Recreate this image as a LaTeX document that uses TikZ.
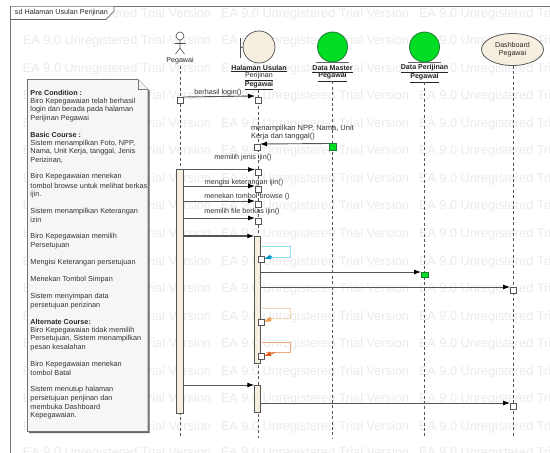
\documentclass[tikz,border=0pt]{standalone}
\usepackage{fontspec}
\setmainfont{Liberation Sans}
\usetikzlibrary{arrows.meta,shapes.geometric}
\definecolor{wm}{HTML}{EBEBEB}
\definecolor{ln}{HTML}{555555}
\definecolor{creamf}{HTML}{F6EFE0}
\definecolor{notef}{HTML}{F7F5F8}
\definecolor{greenf}{HTML}{00DD22}
\definecolor{greend}{HTML}{1C7A30}
\definecolor{skyc}{HTML}{8ADFF2}
\definecolor{skyd}{HTML}{0090C8}
\definecolor{oralt}{HTML}{F8D2AE}
\definecolor{orad}{HTML}{E89A45}
\definecolor{redo}{HTML}{F0A880}
\definecolor{redd}{HTML}{DD5511}
\tikzset{
  x=1pt,y=-1pt,
  every node/.style={inner sep=0pt,outer sep=0pt},
  wmark/.style={anchor=west,text=wm,font=\fontsize{12.7}{14}\selectfont},
  life/.style={draw=ln,dash pattern=on 3pt off 2.4pt,line width=.8pt},
  msg/.style={draw=ln,line width=.9pt,-{Latex[length=7pt,width=5pt,black]}},
  thickmsg/.style={draw=ln,line width=1.2pt,-{Latex[length=7pt,width=5pt,black]}},
  exec/.style={draw=ln,fill=white,line width=.7pt,minimum size=6pt},
  gexec/.style={draw=greend,fill=greenf,line width=.6pt,minimum size=7pt},
  act/.style={draw=ln,fill=creamf,line width=.7pt,minimum width=6.5pt,anchor=north},
  lbl/.style={font=\fontsize{7.2}{8}\selectfont,text=black!80},
  ntxt/.style={anchor=west,font=\fontsize{7.3}{8}\selectfont,text=black!80},
  ntxb/.style={anchor=west,font=\fontsize{7.2}{8}\bfseries\selectfont,text=black!85},
  headtxt/.style={font=\fontsize{7.1}{8}\selectfont,text=black!85,align=center},
  ent/.style={circle,draw=greend,fill=greenf,line width=.8pt,minimum size=30pt},
}
\begin{document}
\begin{tikzpicture}
\useasboundingbox (0,0) rectangle (550,453);
\fill[white] (0,0) rectangle (550,453);
% watermark
\foreach \yy in {14,41,69,96,124,151,179,206,234,262,289,317,344,372,399,427,453}
  \foreach \xx in {23,221,419}
    \node[wmark] at (\xx,\yy) {EA 9.0 Unregistered Trial Version};
% frame
\draw[draw=black!55,line width=.8pt] (10.5,453) -- (10.5,6) -- (550,6);
\fill[white] (11,6.5) -- (114,6.5) -- (114,11) -- (106,19.5) -- (11,19.5) -- cycle;
\draw[draw=black!60,line width=.7pt] (11,19.5) -- (106,19.5) -- (114,11) -- (114,6);
\node[anchor=west,font=\fontsize{7.2}{8}\selectfont,text=black!85] (title) at (15,13) {sd Halaman Usulan Perijinan};
% lifeline heads
\coordinate (pg) at (180,66);
\draw[draw=black!70,line width=.6pt,fill=white] (180,36) circle (4pt);
\draw[draw=black!70,line width=.6pt] (180,40) -- (180,48) (174.5,43.5) -- (185.5,43.5) (180,48) -- (175.5,54) (180,48) -- (184.5,54);
\node[headtxt] (pgl) at (180,60.5) {Pegawai};
\draw[draw=black!70,line width=.7pt] (240.5,38) -- (240.5,58);
\node[circle,draw=black!70,fill=creamf,line width=.7pt,minimum size=32pt] (hb) at (259,47) {};
\draw[draw=black!70,line width=.7pt] (240.5,48) -- (hb.west);
\node[headtxt] (hl) at (259,77.5) {\underline{\textbf{Halaman Usulan}}\\[-.6pt]\underline{Perijinan}\\[-.6pt]\underline{\textbf{Pegawai}}};
\node[ent] (dm) at (332.5,47) {};
\draw[draw=black!60,line width=.7pt] (316,62.5) -- (349,62.5);
\node[headtxt] (dml) at (332.5,73.5) {\underline{\textbf{Data Master}}\\[-.6pt]\underline{\textbf{Pegawai}}};
\node[ent] (dp) at (424.5,47) {};
\draw[draw=black!60,line width=.7pt] (408,62.5) -- (441,62.5);
\node[headtxt] (dpl) at (424.5,73.5) {\underline{\textbf{Data Perijinan}}\\[-.6pt]\underline{\textbf{Pegawai}}};
\node[ellipse,draw=black!65,fill=creamf,line width=.8pt,minimum width=62pt,minimum height=32pt,headtxt] (db) at (512.5,49.5) {Dashboard\\Pegawai};
% lifelines
\coordinate (pgend) at (180,438);
\coordinate (hbend) at (258,438);
\coordinate (dmend) at (332.7,438);
\coordinate (dpend) at (424.5,438);
\coordinate (dbend) at (513,438);
\draw[life] (pg) -- (pgend);
\draw[life] (hl.south -| hbend) -- (hbend);
\draw[life] (dml.south -| dmend) -- (dmend);
\draw[life] (dpl.south -| dpend) -- (dpend);
\draw[life] (db.south -| dbend) -- (dbend);
% activations
\node[act,minimum height=244pt] (a1) at (180,169) {};
\node[act,minimum height=127pt] (a2) at (257.5,236) {};
\node[act,minimum height=27pt] (a3) at (257.5,385) {};
\draw[draw=ln,line width=1.5pt] (a2.north west) -- (a2.south west) (a3.north west) -- (a3.south west);
% exec squares
\node[exec] (s0) at (180,100) {};
\node[exec] (s1) at (258,100) {};
\node[exec] (s2) at (257,147) {};
\node[gexec] (g1) at (332.5,147) {};
\node[exec] (s3) at (258,172) {};
\node[exec] (s4) at (258,189) {};
\node[exec] (s5) at (258,204) {};
\node[exec] (s6) at (258,221) {};
\node[exec] (b1) at (261,259) {};
\node[exec] (o1) at (261,322) {};
\node[exec] (r1) at (261,356) {};
\node[gexec,minimum width=7pt,minimum height=5pt] (g2) at (424.5,275) {};
\node[exec] (d1) at (513,290) {};
\node[exec] (d2) at (513,406) {};
% messages
\draw[msg] (s0.north east) -- ([yshift=1pt]s1.north west);
\draw[msg] (g1.north west) -- (s2.north east);
\foreach \tgt/\yy in {s3/169.5,s4/186,s5/201,s6/218}{
  \coordinate (st) at (a1.east |- 0,\yy);
  \draw[msg] (st) -- (\tgt.north west |- st);
}
\coordinate (st5) at (a1.east |- 0,236);
\draw[thickmsg] (st5) -- (a2.north west);
\coordinate (st6) at (a1.east |- 0,385);
\draw[msg] (st6) -- (a3.north west);
\coordinate (st7) at (a2.east |- 0,272);
\draw[msg] (st7) -- (g2.north west |- st7);
\coordinate (st8) at (a2.east |- 0,287);
\draw[msg] (st8) -- (d1.north west |- st8);
\coordinate (st9) at (a3.east |- 0,403);
\draw[msg] (st9) -- (d2.north west |- st9);
% self messages
\draw[draw=skyc,line width=.8pt] (262,246) -- (290,246) -- (290,257) -- (266,257);
\draw[draw=skyd,line width=.8pt,-{Latex[length=7pt,width=5pt,skyd]}] (272,256.5) -- (b1.east);
\draw[draw=oralt,line width=.8pt] (262,308) -- (290,308) -- (290,318.5) -- (266,318.5);
\draw[draw=orad,line width=.8pt,-{Latex[length=7pt,width=5pt,orad]}] (272,318.5) -- (o1.east);
\draw[draw=redo,line width=.8pt] (262,342) -- (290,342) -- (290,352.5) -- (266,352.5);
\draw[draw=redd,line width=.8pt,-{Latex[length=7pt,width=5pt,redd]}] (275,352.5) -- (r1.east);
% message labels
\node[lbl] (m1) at (218,93) {berhasil login()};
\node[lbl,font=\fontsize{7.5}{8}\selectfont,anchor=west,align=left] (m2) at (251,132.5) {menampilkan NPP, Nama, Unit\\[.4pt]Kerja dan tanggal()};
\node[lbl] (m3) at (243,158) {memilih jenis ijin()};
\node[lbl] (m4) at (244,182.5) {mengisi keterangan ijin()};
\node[lbl] (m5) at (247,196.5) {menekan tombol browse ()};
\node[lbl] (m6) at (242,212) {memilih file berkas ijin()};
% note
\fill[black!60] (29,81) -- (149.5,90) -- (149.5,433) -- (29,433) -- cycle;
\draw[draw=black!55,fill=notef,line width=.7pt] (27.5,79.5) -- (138,79.5) -- (148,89.5) -- (148,431.5) -- (27.5,431.5) -- cycle;
\draw[draw=black!55,line width=.6pt,fill=notef] (138,79.5) -- (138,89.5) -- (148,89.5);
\node[ntxb] (n1) at (30.5,93) {Pre Condition :};
\node[ntxt] (n2) at (30.5,101.5) {Biro Kepegawaian telah berhasil};
\node[ntxt] (n3) at (30.5,110) {login dan berada pada halaman};
\node[ntxt] (n4) at (30.5,118.5) {Perijinan Pegawai};
\node[ntxb] (n5) at (30.5,135) {Basic Course :};
\node[ntxt] (n6) at (30.5,143.5) {Sistem menampilkan Foto, NPP,};
\node[ntxt] (n7) at (30.5,152) {Nama, Unit Kerja, tanggal, Jenis};
\node[ntxt] (n8) at (30.5,160.5) {Perizinan,};
\node[ntxt] (n9) at (30.5,177) {Biro Kepegawaian menekan};
\node[ntxt] (n10) at (30.5,186) {tombol browse untuk melihat berkas};
\node[ntxt] (n11) at (30.5,195) {ijin.};
\node[ntxt] (n12) at (30.5,211.5) {Sistem menampilkan Keterangan};
\node[ntxt] (n13) at (30.5,220) {izin};
\node[ntxt] (n14) at (30.5,237) {Biro Kepegawaian memilih};
\node[ntxt] (n15) at (30.5,245.5) {Persetujuan};
\node[ntxt] (n16) at (30.5,263) {Mengisi Keterangan persetujuan};
\node[ntxt] (n17) at (30.5,279.5) {Menekan Tombol Simpan};
\node[ntxt] (n18) at (30.5,297) {Sistem menyimpan data};
\node[ntxt] (n19) at (30.5,305.5) {persetujuan perizinan};
\node[ntxb] (n20) at (30.5,322) {Alternate Course:};
\node[ntxt] (n21) at (30.5,330.5) {Biro Kepegawaian tidak memilih};
\node[ntxt] (n22) at (30.5,339) {Persetujuan, Sistem menampilkan};
\node[ntxt] (n23) at (30.5,347.5) {pesan kesalahan};
\node[ntxt] (n24) at (30.5,364.5) {Biro Kepegawaian menekan};
\node[ntxt] (n25) at (30.5,373) {tombol Batal};
\node[ntxt] (n26) at (30.5,390) {Sistem menutup halaman};
\node[ntxt] (n27) at (30.5,398.5) {persetujuan perijinan dan};
\node[ntxt] (n28) at (30.5,407) {membuka Dashboard};
\node[ntxt] (n29) at (30.5,415.5) {Kepegawaian.};
\end{tikzpicture}
\end{document}
